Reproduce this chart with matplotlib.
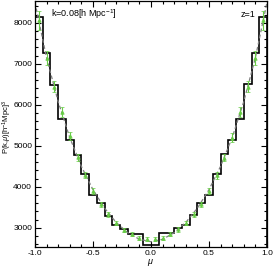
import numpy as np
import matplotlib
matplotlib.use("Agg")
import matplotlib.pyplot as plt
from matplotlib.ticker import MultipleLocator

# binned P(k,mu) (black steps), 30 bins in mu
mu_edges = np.linspace(-1.0, 1.0, 31)
p_bins = [8140, 7270, 6490, 5660, 5150, 4780, 4300, 3795, 3595, 3290,
          3065, 2960, 2855, 2855, 2580, 2580, 2865, 2865, 2985, 3065,
          3305, 3605, 3810, 4320, 4790, 5145, 5655, 6505, 7270, 8140]

# measured points (green, with errors)
mu_pts = [-0.967, -0.9, -0.833, -0.767, -0.7, -0.633, -0.567, -0.5, -0.433, -0.367,
          -0.3, -0.233, -0.167, -0.1, -0.033, 0.033, 0.1, 0.167, 0.233, 0.3,
          0.367, 0.433, 0.5, 0.567, 0.633, 0.7, 0.767, 0.833, 0.9, 0.967]
p_pts = [8060, 7150, 6440, 5820, 5230, 4720, 4290, 3900, 3575, 3325,
         3120, 2950, 2840, 2750, 2720, 2720, 2755, 2840, 2960, 3120,
         3325, 3575, 3900, 4280, 4710, 5200, 5816, 6440, 7150, 8060]
p_err = [240, 170, 140, 120, 100, 90, 80, 70, 65, 60,
         55, 55, 50, 50, 50, 50, 50, 50, 55, 55,
         60, 65, 70, 80, 90, 100, 120, 140, 170, 240]

# model curve (dashed grey)
mu_model = [-1.0, -0.9, -0.8, -0.7, -0.6, -0.5, -0.4, -0.3, -0.2, -0.1, 0.0,
            0.1, 0.2, 0.3, 0.4, 0.5, 0.6, 0.7, 0.8, 0.9, 1.0]
p_model = [8500, 7150, 6080, 5200, 4500, 3930, 3480, 3130, 2880, 2720, 2660,
           2720, 2880, 3130, 3480, 3930, 4500, 5200, 6080, 7150, 8500]

plt.rcParams['font.family'] = ['Liberation Sans', 'DejaVu Sans']
plt.rcParams['mathtext.fontset'] = 'custom'
plt.rcParams['mathtext.it'] = 'Liberation Sans:italic'
plt.rcParams['mathtext.rm'] = 'Liberation Sans'
plt.rcParams['font.size'] = 6.5

fig = plt.figure(figsize=(2.73, 2.70), dpi=100)
ax = fig.add_axes([0.128, 0.085, 0.85, 0.911])

ax.plot(mu_model, p_model, ls='--', color='#808080', lw=0.9, dashes=(3, 2))
ax.errorbar(mu_pts, p_pts, yerr=p_err, fmt='^', ms=2.5, color='#66cc44',
            ecolor='#66cc44', elinewidth=0.8, capsize=1.5, capthick=0.8, mew=0.5)
ax.stairs(p_bins, mu_edges, color='black', lw=1.2)

ax.set_xlim(-1.0, 1.0)
ax.set_ylim(2530, 8530)
ax.xaxis.set_major_locator(MultipleLocator(0.5))
ax.xaxis.set_minor_locator(MultipleLocator(0.1))
ax.yaxis.set_major_locator(MultipleLocator(1000))
ax.yaxis.set_minor_locator(MultipleLocator(200))
ax.xaxis.set_major_formatter(plt.FormatStrFormatter('%.1f'))
ax.tick_params(which='both', direction='in', top=True, right=True, width=0.8, pad=2,
               labelsize=6)
ax.tick_params(which='major', length=4)
ax.tick_params(which='minor', length=2)
for s in ax.spines.values():
    s.set_linewidth(0.9)

ax.set_xlabel(r'$\mu$', labelpad=0)
fig.text(0.004, 0.53, r'P(k,$\mu$)[h$^{-1}$Mpc]$^3$', rotation=90,
         ha='left', va='center', fontsize=5.5)
ax.text(0.07, 0.975, r'k=0.08[h Mpc$^{-1}$]', transform=ax.transAxes, va='top', ha='left')
ax.text(0.95, 0.965, 'z=1', transform=ax.transAxes, va='top', ha='right')

fig.savefig('out.png', dpi=100)
